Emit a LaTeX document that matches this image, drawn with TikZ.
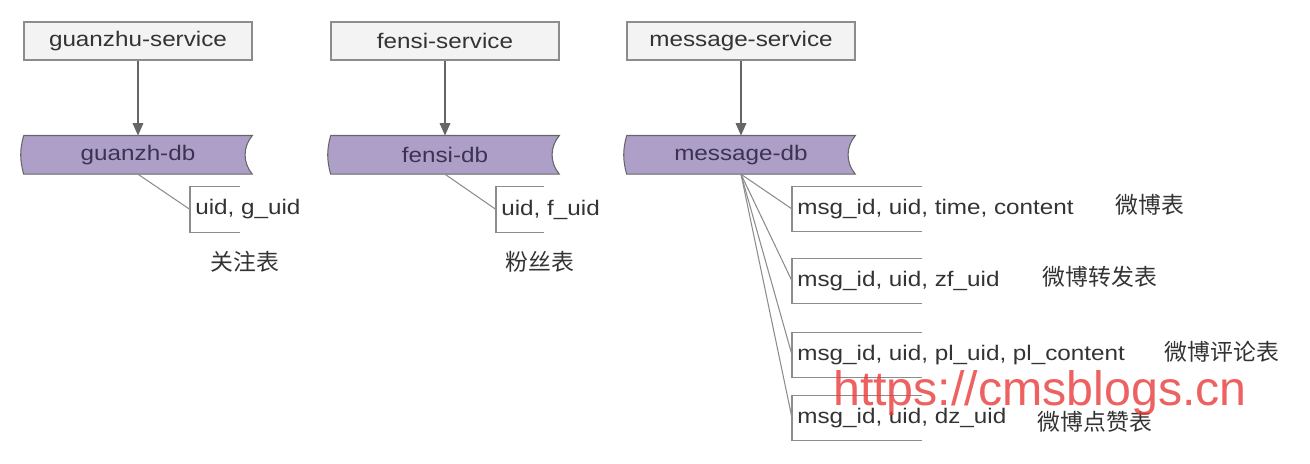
\documentclass[tikz,border=0pt]{standalone}
\usepackage{fontspec}
\setmainfont{Liberation Sans}[FakeStretch=1.15]
\newfontfamily\cjk{Noto Sans CJK SC}
\newfontfamily\wmfont{Liberation Sans}
\usepackage{tikz}
\usetikzlibrary{arrows.meta, positioning, backgrounds}
\definecolor{svc-gray}{HTML}{F3F3F3}
\definecolor{line-gray}{HTML}{8C8C8C}
\definecolor{db-purple}{HTML}{AE9FC9}
\definecolor{db-text}{HTML}{3B3350}
\definecolor{txt-dark}{HTML}{333333}
\definecolor{wm-red}{HTML}{E8393A}

\begin{document}
\begin{tikzpicture}[node distance=1.5cm,
    svc/.style={rectangle, draw=line-gray, fill=svc-gray, semithick,
                minimum width=4.56cm, minimum height=0.76cm,
                font=\fontsize{12}{14}\selectfont, text=txt-dark},
    db/.style={rectangle, minimum width=4.56cm, minimum height=0.76cm,
               font=\fontsize{12}{14}\selectfont, text=db-text},
    dbshape/.style={draw=gray!80!black, fill=db-purple, semithick},
    tbl/.style={anchor=west, minimum height=0.9cm, inner xsep=0.1cm,
                font=\fontsize{12}{14}\selectfont, text=txt-dark},
    tblline/.style={line-gray, semithick},
    lbl/.style={font=\cjk\fontsize{13}{15}\selectfont, text=txt-dark},
    arr/.style={-{Triangle[length=7pt, width=6pt]}, thick, gray!80!black},
    link/.style={semithick, line-gray}]
  \useasboundingbox (0,0) rectangle (26.2,-9.28);
  % services
  \node[svc] (gsvc) at (2.76,-0.82) {guanzhu-service};
  \node[svc] (fsvc) at (8.9,-0.82) {fensi-service};
  \node[svc] (msvc) at (14.82,-0.82) {message-service};
  % databases
  \node[db, below=of gsvc] (gdb) {guanzh-db};
  \node[db, below=of fsvc] (fdb) {fensi-db};
  \node[db, below=of msvc] (mdb) {message-db};
  \begin{scope}[on background layer]
    \foreach \d in {gdb, fdb, mdb}
      \draw[dbshape] (\d.north west) -- (\d.north east)
            to[bend right=40] (\d.south east) -- (\d.south west)
            to[bend left=15] (\d.north west);
  \end{scope}
  \draw[arr] (gsvc.south) -- (gdb.north);
  \draw[arr] (fsvc.south) -- (fdb.north);
  \draw[arr] (msvc.south) -- (mdb.north);
  % tables
  \node[tbl] (gtbl) at (3.8,-4.19) {uid, g\_uid};
  \node[tbl] (ftbl) at (9.92,-4.19) {uid, f\_uid};
  \foreach \y/\txt [count=\i] in {-4.18/{msg\_id, uid, time, content},
      -5.62/{msg\_id, uid, zf\_uid}, -7.1/{msg\_id, uid, pl\_uid, pl\_content},
      -8.36/{msg\_id, uid, dz\_uid}}
    \node[tbl] (mtbl\i) at (15.84,\y) {\txt};
  \draw[tblline] ([xshift=1cm]gtbl.north west) -- (gtbl.north west)
        -- (gtbl.south west) -- ([xshift=1cm]gtbl.south west);
  \draw[tblline] ([xshift=0.96cm]ftbl.north west) -- (ftbl.north west)
        -- (ftbl.south west) -- ([xshift=0.96cm]ftbl.south west);
  \foreach \i in {1,...,4}
    \draw[tblline] ([xshift=2.6cm]mtbl\i.north west) -- (mtbl\i.north west)
          -- (mtbl\i.south west) -- ([xshift=2.6cm]mtbl\i.south west);
  \draw[link] (gdb.south) -- (gtbl.west);
  \draw[link] (fdb.south) -- (ftbl.west);
  \foreach \i in {1,...,4}
    \draw[link] (mdb.south) -- (mtbl\i.west);
  % labels
  \node[lbl] (glbl) at (4.9,-5.24) {关注表};
  \node[lbl] (flbl) at (10.8,-5.24) {粉丝表};
  \node[lbl] (mlbl1) at (23.0,-4.1) {微博表};
  \node[lbl] (mlbl2) at (22.0,-5.54) {微博转发表};
  \node[lbl] (mlbl3) at (24.44,-7.04) {微博评论表};
  \node[lbl] (mlbl4) at (21.9,-8.44) {微博点赞表};
  \node[font=\wmfont\fontsize{27.5}{30}\selectfont, text=wm-red, opacity=0.8]
       (wm) at (20.8,-7.86) {https://cmsblogs.cn};
\end{tikzpicture}
\end{document}
